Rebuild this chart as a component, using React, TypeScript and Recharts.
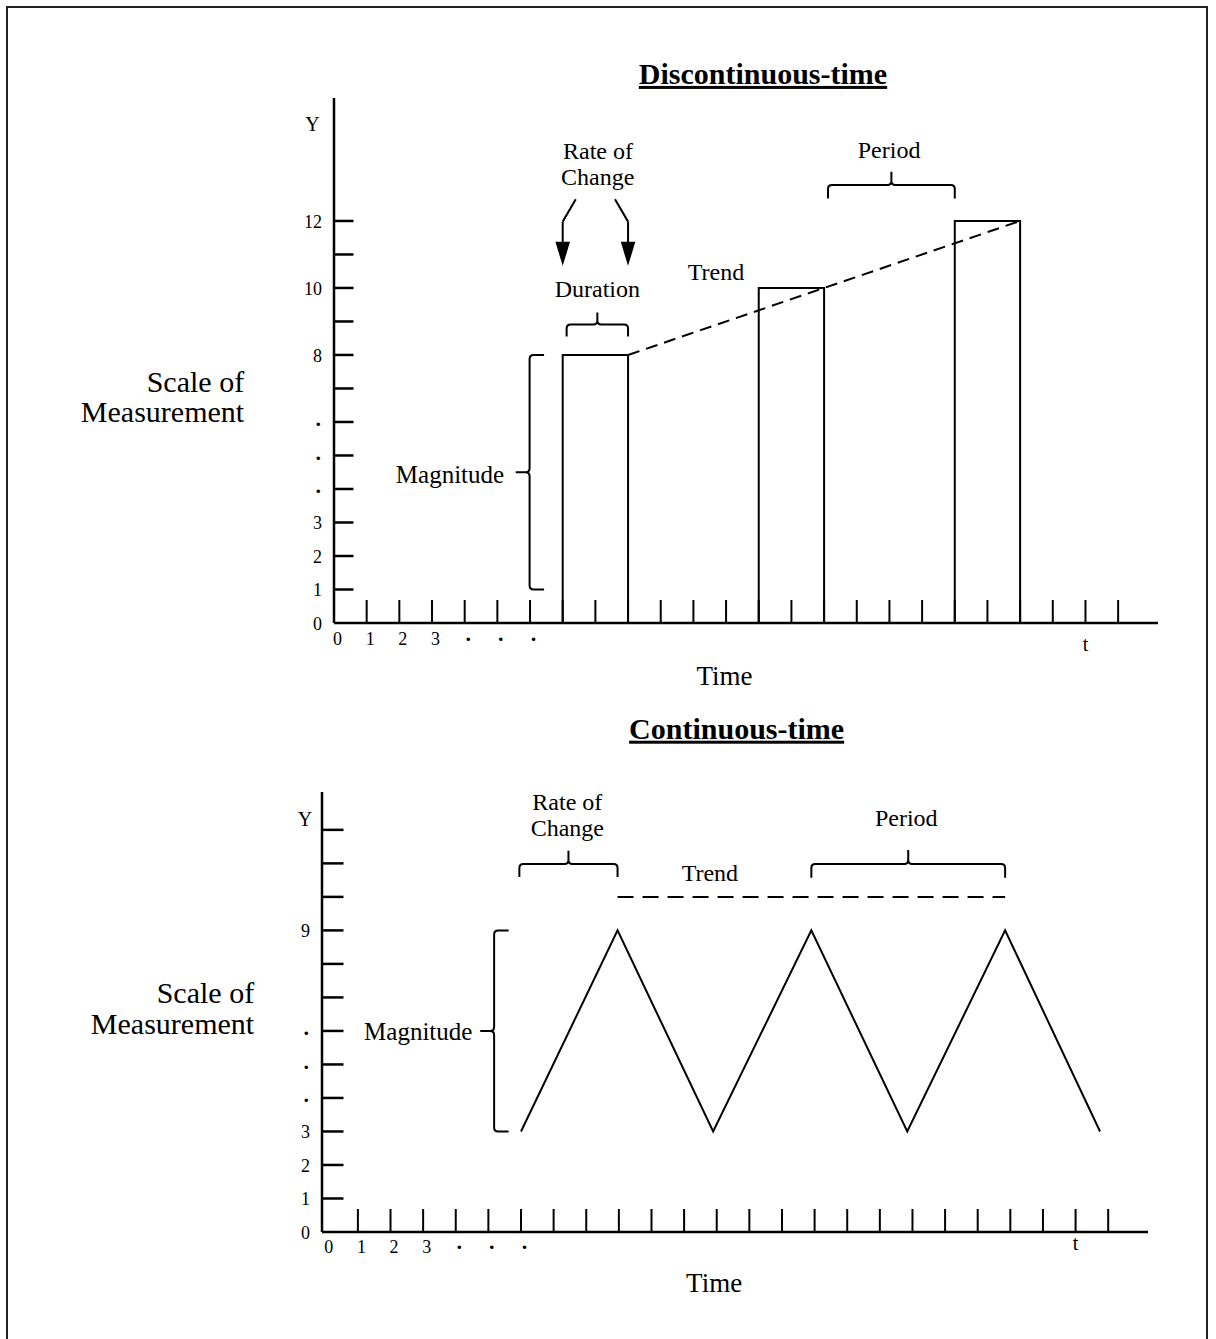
import { ComposedChart, Line, XAxis, YAxis, ReferenceArea, ReferenceDot, ReferenceLine } from 'recharts';

const FONT = "'Liberation Serif', 'Times New Roman', serif";

// ---- discontinuous-time (top) ----
const X_TICKS = [0, 1, 2, 3, 4, 5, 6, 7, 8, 9, 10, 11, 12, 13, 14, 15, 16, 17, 18, 19, 20, 21, 22, 23, 24];
const X_LABELS: Record<number, string> = { 0: '0', 1: '1', 2: '2', 3: '3', 4: '.', 5: '.', 6: '.', 23: 't' };
const D_Y_TICKS = [0, 1, 2, 3, 4, 5, 6, 7, 8, 9, 10, 11, 12];
const D_Y_LABELS: Record<number, string> = { 0: '0', 1: '1', 2: '2', 3: '3', 4: '.', 5: '.', 6: '.', 8: '8', 10: '10', 12: '12' };
const BAR_START = [7, 13, 19];
const BAR_END = [9, 15, 21];
const BAR_VALUE = [8, 10, 12];
const D_TREND_X = [9, 15, 21];
const D_TREND_Y = [8, 10, 12];

// ---- continuous-time (bottom) ----
const C_Y_TICKS = [0, 1, 2, 3, 4, 5, 6, 7, 8, 9, 10, 11, 12];
const C_Y_LABELS: Record<number, string> = { 0: '0', 1: '1', 2: '2', 3: '3', 4: '.', 5: '.', 6: '.', 9: '9' };
const WAVE_X = [6, 8.96, 11.89, 14.9, 17.84, 20.84, 23.75];
const WAVE_Y = [3, 9, 3, 9, 3, 9, 3];
const C_TREND_X = [8.96, 20.84];
const C_TREND_Y = [10, 10];

const barOutlines = BAR_START.map((s, i) => [
  { x: s, y: 0 },
  { x: s, y: BAR_VALUE[i] },
  { x: BAR_END[i], y: BAR_VALUE[i] },
  { x: BAR_END[i], y: 0 },
]);
const dTrend = D_TREND_X.map((x, i) => ({ x, y: D_TREND_Y[i] }));
const wave = WAVE_X.map((x, i) => ({ x, y: WAVE_Y[i] }));
const cTrend = C_TREND_X.map((x, i) => ({ x, y: C_TREND_Y[i] }));

function makeXTick(labels: Record<number, string>, tickLen: number, digitDy: number, tDy: number) {
  return (p: any) => {
    const v = p.payload.value;
    const label = labels[v];
    const isDot = label === '.';
    const isT = label === 't';
    const dy = isT ? tDy : isDot ? digitDy - 4 : digitDy;
    return (
      <g>
        {v !== 0 && <line x1={p.x} x2={p.x} y1={p.y} y2={p.y - tickLen} stroke="#000" strokeWidth={2} />}
        {label && (
          <text
            x={p.x + (isT ? 0 : 3.5)} y={p.y + dy} textAnchor="middle"
            fontSize={isT ? 20 : isDot ? 22 : 18} fontWeight={isDot ? 'bold' : 'normal'}
            fontFamily={FONT} fill="#000"
          >
            {label}
          </text>
        )}
      </g>
    );
  };
}

function makeYTick(labels: Record<number, string>, tickLen: number) {
  return (p: any) => {
    const v = p.payload.value;
    const label = labels[v];
    const isDot = label === '.';
    return (
      <g>
        {v !== 0 && <line x1={p.x} x2={p.x + tickLen} y1={p.y} y2={p.y} stroke="#000" strokeWidth={2.5} />}
        {label && (
          <text
            x={p.x - (isDot ? 13 : 12)} y={p.y + (isDot ? 4.5 : 7)} textAnchor="end"
            fontSize={isDot ? 22 : 18} fontWeight={isDot ? 'bold' : 'normal'}
            fontFamily={FONT} fill="#000"
          >
            {label}
          </text>
        )}
      </g>
    );
  };
}

// brace lying flat, tip pointing up
const braceUp = (p: any) => {
  const { x, y, width: w, height: h } = p;
  const l = y + h * 0.5;
  const r = 4;
  const cx = x + w / 2;
  const d = `M${x},${y + h} L${x},${l + r} Q${x},${l} ${x + r},${l} L${cx - r},${l} Q${cx},${l} ${cx},${l - r} L${cx},${y}
    M${cx},${l - r} Q${cx},${l} ${cx + r},${l} L${x + w - r},${l} Q${x + w},${l} ${x + w},${l + r} L${x + w},${y + h}`;
  return <path d={d} fill="none" stroke="#000" strokeWidth={2} />;
};

// upright brace, tip pointing left
const braceLeft = (p: any) => {
  const { x, y, width: w, height: h } = p;
  const lx = x + w * 0.49;
  const r = 4;
  const cy = y + h / 2;
  const d = `M${x + w},${y} L${lx + r},${y} Q${lx},${y} ${lx},${y + r} L${lx},${cy - r} Q${lx},${cy} ${lx - r},${cy} L${x},${cy}
    M${lx - r},${cy} Q${lx},${cy} ${lx},${cy + r} L${lx},${y + h - r} Q${lx},${y + h} ${lx + r},${y + h} L${x + w},${y + h}`;
  return <path d={d} fill="none" stroke="#000" strokeWidth={2} />;
};

const arrowDown = (p: any) => {
  const { x1, y1, x2, y2 } = p;
  const head = 24;
  const half = 7.3;
  return (
    <g>
      <line x1={x1} y1={y1} x2={x2} y2={y2 - head + 1} stroke="#000" strokeWidth={2} />
      <polygon points={`${x2 - half},${y2 - head} ${x2 + half},${y2 - head} ${x2},${y2}`} fill="#000" />
    </g>
  );
};

type NoteOpts = { size?: number; bold?: boolean; underline?: boolean; anchor?: 'start' | 'middle' | 'end' };
function note(x: number, y: number, text: string, opts: NoteOpts = {}) {
  const { size = 24, bold = false, underline = false, anchor = 'middle' } = opts;
  return (
    <ReferenceDot
      key={`${text}-${x}-${y}`}
      x={x}
      y={y}
      r={0}
      ifOverflow="visible"
      shape={(p: any) => (
        <text
          x={p.cx}
          y={p.cy}
          textAnchor={anchor}
          fontSize={size}
          fontWeight={bold ? 'bold' : 'normal'}
          textDecoration={underline ? 'underline' : undefined}
          fontFamily={FONT}
          fill="#000"
        >
          {text}
        </text>
      )}
    />
  );
}

const axisLine = { stroke: '#000', strokeWidth: 2.5 };

export default function App() {
  return (
    <div style={{ position: 'absolute', left: 0, top: 0, width: 1216, height: 1339, background: '#fff', fontFamily: FONT, overflow: 'hidden' }}>
      <div
        style={{
          position: 'absolute', left: 6, top: 6, width: 1198, height: 1340,
          borderTop: '2px solid #222', borderLeft: '2px solid #222', borderRight: '2px solid #222',
        }}
      />

      <div style={{ position: 'absolute', left: 0, top: 0 }}>
        <ComposedChart width={1216} height={700} margin={{ top: 98, right: 58, bottom: 47, left: 304 }}>
          <XAxis
            type="number" dataKey="x" domain={[0, 25.22]} allowDataOverflow ticks={X_TICKS} interval={0}
            height={30} tickSize={0} tickMargin={0} tickLine={false} axisLine={axisLine}
            tick={makeXTick(X_LABELS, 23, 22, 28)}
          />
          <YAxis
            type="number" domain={[0, 15.67]} allowDataOverflow ticks={D_Y_TICKS} interval={0}
            width={30} tickSize={0} tickMargin={0} tickLine={false} axisLine={axisLine}
            tick={makeYTick(D_Y_LABELS, 19.5)}
          />
          {barOutlines.map((pts, i) => (
            <Line key={i} data={pts} dataKey="y" type="linear" stroke="#000" strokeWidth={2}
              strokeLinejoin="miter" dot={false} activeDot={false} isAnimationActive={false} />
          ))}
          <Line data={dTrend} dataKey="y" type="linear" stroke="#000" strokeWidth={2} strokeDasharray="12 7"
            dot={false} activeDot={false} isAnimationActive={false} />

          <ReferenceLine segment={[{ x: 7.4, y: 12.65 }, { x: 7, y: 11.98 }]} stroke="#000" strokeWidth={2} />
          <ReferenceLine segment={[{ x: 7, y: 11.98 }, { x: 7, y: 10.66 }]} shape={arrowDown} />
          <ReferenceLine segment={[{ x: 8.6, y: 12.65 }, { x: 9, y: 11.98 }]} stroke="#000" strokeWidth={2} />
          <ReferenceLine segment={[{ x: 9, y: 11.98 }, { x: 9, y: 10.66 }]} shape={arrowDown} />

          <ReferenceArea x1={7.12} x2={9} y1={8.55} y2={9.27} ifOverflow="visible" shape={braceUp} />
          <ReferenceArea x1={15.12} x2={19} y1={12.67} y2={13.47} ifOverflow="visible" shape={braceUp} />
          <ReferenceArea x1={5.56} x2={6.43} y1={1} y2={8} ifOverflow="visible" shape={braceLeft} />

          {note(13.13, 16.09, 'Discontinuous-time', { size: 30, bold: true, underline: true })}
          {note(-0.66, 14.69, 'Y', { size: 20 })}
          {note(8.08, 13.85, 'Rate of')}
          {note(8.07, 13.07, 'Change')}
          {note(8.06, 9.72, 'Duration')}
          {note(11.69, 10.24, 'Trend')}
          {note(16.99, 13.88, 'Period')}
          {note(3.55, 4.18, 'Magnitude', { size: 25 })}
          {note(-2.75, 6.9, 'Scale of', { size: 30, anchor: 'end' })}
          {note(-2.75, 6.0, 'Measurement', { size: 30, anchor: 'end' })}
          {note(11.95, -1.85, 'Time', { size: 27 })}
        </ComposedChart>
      </div>

      <div style={{ position: 'absolute', left: 0, top: 700 }}>
        <ComposedChart width={1216} height={639} margin={{ top: 92, right: 68, bottom: 77, left: 292 }}>
          <XAxis
            type="number" dataKey="x" domain={[-0.1, 25.22]} allowDataOverflow ticks={X_TICKS} interval={0}
            height={30} tickSize={0} tickMargin={0} tickLine={false} axisLine={axisLine}
            tick={makeXTick(X_LABELS, 23, 21, 18)}
          />
          <YAxis
            type="number" domain={[0, 13.13]} allowDataOverflow ticks={C_Y_TICKS} interval={0}
            width={30} tickSize={0} tickMargin={0} tickLine={false} axisLine={axisLine}
            tick={makeYTick(C_Y_LABELS, 21.5)}
          />
          <Line data={wave} dataKey="y" type="linear" stroke="#000" strokeWidth={2}
            dot={false} activeDot={false} isAnimationActive={false} />
          <Line data={cTrend} dataKey="y" type="linear" stroke="#000" strokeWidth={2} strokeDasharray="16 9"
            dot={false} activeDot={false} isAnimationActive={false} />

          <ReferenceArea x1={5.95} x2={8.96} y1={10.59} y2={11.38} ifOverflow="visible" shape={braceUp} />
          <ReferenceArea x1={14.9} x2={20.84} y1={10.57} y2={11.4} ifOverflow="visible" shape={braceUp} />
          <ReferenceArea x1={4.75} x2={5.62} y1={3} y2={9} ifOverflow="visible" shape={braceLeft} />

          {note(12.61, 14.72, 'Continuous-time', { size: 30, bold: true, underline: true })}
          {note(-0.62, 12.12, 'Y', { size: 20 })}
          {note(7.42, 12.6, 'Rate of')}
          {note(7.42, 11.82, 'Change')}
          {note(11.79, 10.46, 'Trend')}
          {note(17.81, 12.13, 'Period')}
          {note(2.85, 5.73, 'Magnitude', { size: 25 })}
          {note(-2.18, 6.84, 'Scale of', { size: 30, anchor: 'end' })}
          {note(-2.18, 5.91, 'Measurement', { size: 30, anchor: 'end' })}
          {note(11.92, -1.79, 'Time', { size: 27 })}
        </ComposedChart>
      </div>
    </div>
  );
}
